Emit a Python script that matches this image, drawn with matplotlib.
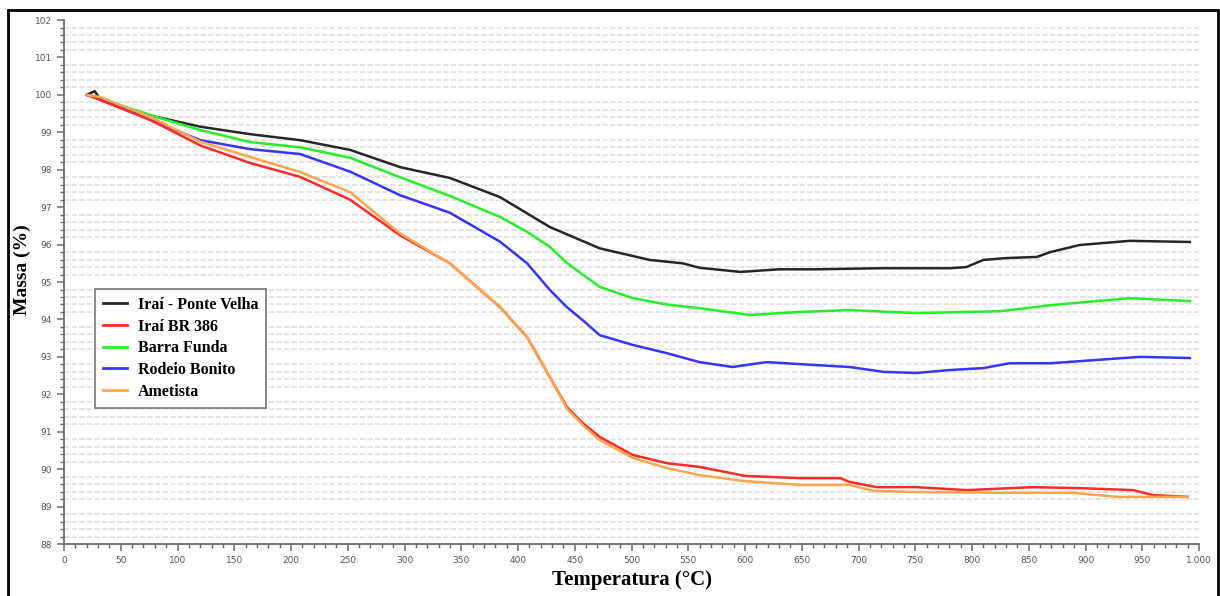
import matplotlib
matplotlib.use("Agg")
import matplotlib.pyplot as plt
from matplotlib.ticker import MultipleLocator, FuncFormatter
from matplotlib.patches import Rectangle

# temperature (C) / mass (%)
t_black = [20, 27, 32, 76, 120, 164, 208, 252, 296, 340, 384, 428, 472, 516, 545, 560, 596,
           630, 663, 722, 781, 795, 810, 830, 857, 869, 895, 939, 992]
m_black = [100.0, 100.1, 99.88, 99.45, 99.15, 98.95, 98.79, 98.53, 98.07, 97.78, 97.27, 96.47,
           95.9, 95.59, 95.5, 95.38, 95.27, 95.34, 95.34, 95.37, 95.37, 95.4, 95.59, 95.64,
           95.67, 95.8, 95.99, 96.1, 96.07]

t_red = [20, 32, 76, 120, 164, 208, 252, 296, 340, 384, 408, 428, 443, 457, 472, 501, 531,
         560, 600, 648, 684, 692, 716, 751, 795, 854, 898, 942, 959, 990]
m_red = [100.0, 99.86, 99.33, 98.65, 98.18, 97.81, 97.2, 96.25, 95.5, 94.33, 93.53, 92.46,
         91.66, 91.23, 90.86, 90.38, 90.16, 90.06, 89.82, 89.76, 89.76, 89.66, 89.52, 89.52,
         89.44, 89.52, 89.49, 89.44, 89.31, 89.26]

t_green = [20, 23, 76, 120, 164, 208, 252, 296, 340, 384, 408, 428, 443, 472, 501, 531, 560,
           604, 648, 692, 751, 795, 825, 869, 939, 992]
m_green = [100.0, 99.99, 99.46, 99.06, 98.74, 98.6, 98.32, 97.8, 97.3, 96.74, 96.34, 95.94,
           95.51, 94.87, 94.57, 94.4, 94.3, 94.12, 94.2, 94.25, 94.17, 94.2, 94.22, 94.38,
           94.57, 94.49]

t_blue = [20, 32, 76, 120, 164, 208, 252, 296, 340, 384, 408, 428, 443, 457, 472, 501, 531,
          560, 589, 619, 663, 692, 722, 751, 781, 810, 833, 869, 948, 992]
m_blue = [100.0, 99.91, 99.33, 98.79, 98.55, 98.42, 97.95, 97.32, 96.85, 96.08, 95.5, 94.79,
          94.33, 93.98, 93.58, 93.32, 93.1, 92.86, 92.73, 92.86, 92.78, 92.73, 92.6, 92.57,
          92.65, 92.7, 92.83, 92.83, 93.0, 92.97]

t_orange = [20, 32, 76, 120, 164, 208, 252, 296, 340, 384, 408, 428, 443, 457, 472, 501, 531,
            560, 600, 648, 692, 713, 751, 825, 889, 928, 990]
m_orange = [100.0, 99.94, 99.41, 98.75, 98.34, 97.94, 97.4, 96.3, 95.5, 94.33, 93.53, 92.46,
            91.62, 91.18, 90.78, 90.3, 90.03, 89.84, 89.68, 89.58, 89.58, 89.42, 89.39, 89.37,
            89.37, 89.26, 89.26]

names = ["Iraí - Ponte Velha", "Iraí BR 386", "Barra Funda", "Rodeio Bonito", "Ametista"]
colors = ["#262626", "#ff2a2a", "#27ee27", "#3535ff", "#ffa64d"]

fig = plt.figure(figsize=(12.2, 5.96), dpi=100)
ax = fig.add_axes([0.0525, 0.0872, 0.9303, 0.8792])

series = [(t_black, m_black), (t_red, m_red), (t_green, m_green), (t_blue, m_blue),
          (t_orange, m_orange)]
order = [0, 2, 3, 1, 4]
lines = {}
for i in order:
    t, m = series[i]
    lines[i], = ax.plot(t, m, color=colors[i], lw=1.8, label=names[i])

ax.set_xlim(0, 1000)
ax.set_ylim(88, 102)
ax.xaxis.set_major_locator(MultipleLocator(50))
ax.xaxis.set_minor_locator(MultipleLocator(10))
ax.yaxis.set_major_locator(MultipleLocator(1))
ax.yaxis.set_minor_locator(MultipleLocator(0.2))
ax.xaxis.set_major_formatter(FuncFormatter(lambda v, p: "1.000" if v >= 1000 else "%d" % v))

ax.grid(which="minor", axis="y", color="#e2e2e2", ls=(0, (3, 1.2)), lw=1.3)
ax.set_axisbelow(True)

for s in ["top", "right"]:
    ax.spines[s].set_visible(False)
for s in ["left", "bottom"]:
    ax.spines[s].set_color("#6a6a6a")
    ax.spines[s].set_linewidth(1.3)
ax.tick_params(which="major", length=5, width=1.1, color="#6a6a6a",
               labelsize=6.5, labelcolor="#555555")
ax.tick_params(which="minor", length=3, width=1.0, color="#6a6a6a")

ax.set_xlabel("Temperatura (°C)", family="Liberation Serif", fontweight="bold",
              fontsize=15, labelpad=4)
ax.set_ylabel("Massa (%)", family="Liberation Serif", fontweight="bold", fontsize=14)
ax.yaxis.set_label_coords(-0.029, 0.523)

leg = ax.legend([lines[i] for i in range(5)], names, loc="upper left",
                bbox_to_anchor=(0.027, 0.487), borderaxespad=0,
                prop={"family": "Liberation Serif", "weight": "bold", "size": 11.5},
                fancybox=False, framealpha=1, edgecolor="#777777",
                handlelength=1.5, handletextpad=0.7, labelspacing=0.36,
                borderpad=0.5)
leg.get_frame().set_linewidth(1.2)
for h in leg.legend_handles:
    h.set_linewidth(2)

fig.add_artist(Rectangle((8 / 1220, -0.02), 1210 / 1220, 0.983 + 0.02,
                         transform=fig.transFigure, fill=False, lw=2, ec="black"))

fig.savefig("out.png", dpi=100)
